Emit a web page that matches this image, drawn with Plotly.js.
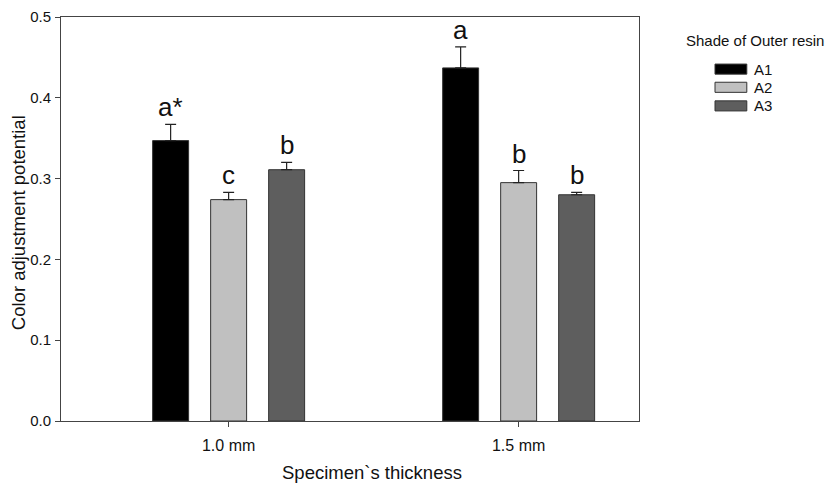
<!DOCTYPE html>
<html>
<head>
<meta charset="utf-8">
<script src="https://cdn.plot.ly/plotly-3.0.1.min.js"></script>
<style>html,body{margin:0;padding:0;background:#fff;}#chart{width:830px;height:490px;}</style>
</head>
<body>
<div id="chart"></div>
<script>
const categories = ["1.0 mm", "1.5 mm"];
const seriesNames = ["A1", "A2", "A3"];
const meanA1 = [0.347, 0.437];
const meanA2 = [0.274, 0.295];
const meanA3 = [0.311, 0.280];
const errA1 = [0.020, 0.026];
const errA2 = [0.009, 0.015];
const errA3 = [0.009, 0.003];
const lettersA1 = ["a*", "a"];
const lettersA2 = ["c", "b"];
const lettersA3 = ["b", "b"];
const yTicks = [0.0, 0.1, 0.2, 0.3, 0.4, 0.5];

const colors = ["#000000", "#c0c0c0", "#5e5e5e"];
const means = [meanA1, meanA2, meanA3];
const errs = [errA1, errA2, errA3];
const letters = [lettersA1, lettersA2, lettersA3];
const FONT = "Liberation Sans, Arial, sans-serif";

const traces = seriesNames.map((n, i) => ({
  type: "bar",
  name: n,
  x: categories,
  y: means[i],
  marker: {color: colors[i], line: {color: "#333333", width: 1}},
  error_y: {type: "data", array: errs[i], arrayminus: errs[i].map(() => 0), symmetric: false,
            color: "#222222", thickness: 1.2, width: 5.5},
  showlegend: false,
  hoverinfo: "skip"
}));

const slot = 0.2;
const annotations = [];
seriesNames.forEach((n, i) => {
  categories.forEach((c, j) => {
    annotations.push({
      xref: "x", yref: "y",
      x: j + (i - 1) * slot,
      y: means[i][j] + errs[i][j],
      text: letters[i][j],
      showarrow: false,
      yanchor: "bottom",
      yshift: 0,
      font: {family: FONT, size: 26, color: "#111"}
    });
  });
});

annotations.push({
  xref: "paper", yref: "paper", x: 0.538, y: -0.128, xanchor: "center", yanchor: "middle",
  text: "Specimen`s thickness", showarrow: false,
  font: {family: FONT, size: 18.5, color: "#111"}
});
annotations.push({
  xref: "paper", yref: "paper", x: -0.0745, y: 0.492, xanchor: "center", yanchor: "middle",
  text: "Color adjustment potential", showarrow: false, textangle: -90,
  font: {family: FONT, size: 18.5, color: "#111"}
});

const shapes = [];
annotations.push({
  xref: "paper", yref: "paper", x: 1.078, y: 0.942, xanchor: "left", yanchor: "middle",
  text: "Shade of Outer resin", showarrow: false,
  font: {family: FONT, size: 15, color: "#111"}
});
const legY = [0.871, 0.826, 0.780];
seriesNames.forEach((n, i) => {
  shapes.push({type: "rect", xref: "paper", yref: "paper",
    x0: 1.1315, x1: 1.1865, y0: legY[i] - 0.0125, y1: legY[i] + 0.0125,
    fillcolor: colors[i], line: {color: "#333", width: 1}});
  annotations.push({
    xref: "paper", yref: "paper", x: 1.196, y: legY[i], xanchor: "left", yanchor: "middle",
    text: n, showarrow: false,
    font: {family: FONT, size: 15, color: "#111"}
  });
});

const layout = {
  width: 830, height: 490,
  margin: {l: 61, r: 191, t: 16.5, b: 68.5},
  paper_bgcolor: "#fff", plot_bgcolor: "#fff",
  barmode: "group", bargap: 0.4, bargroupgap: 0.38,
  font: {family: FONT, color: "#111"},
  xaxis: {
    type: "category", range: [-0.578, 1.415],
    showline: true, mirror: true, linecolor: "#444", linewidth: 1,
    ticks: "outside", ticklen: 5, tickcolor: "#444",
    showgrid: false, zeroline: false,
    ticklabelstandoff: 5,
    tickfont: {size: 16, color: "#111"}
  },
  yaxis: {
    range: [0, 0.5], tickvals: yTicks, tickformat: ".1f",
    showline: true, mirror: true, linecolor: "#444", linewidth: 1,
    ticks: "outside", ticklen: 5, tickcolor: "#444",
    showgrid: false, zeroline: false,
    ticklabelstandoff: 1,
    tickfont: {size: 15, color: "#111"}
  },
  annotations: annotations,
  shapes: shapes
};

Plotly.newPlot("chart", traces, layout, {displayModeBar: false, staticPlot: true});
</script>
</body>
</html>
